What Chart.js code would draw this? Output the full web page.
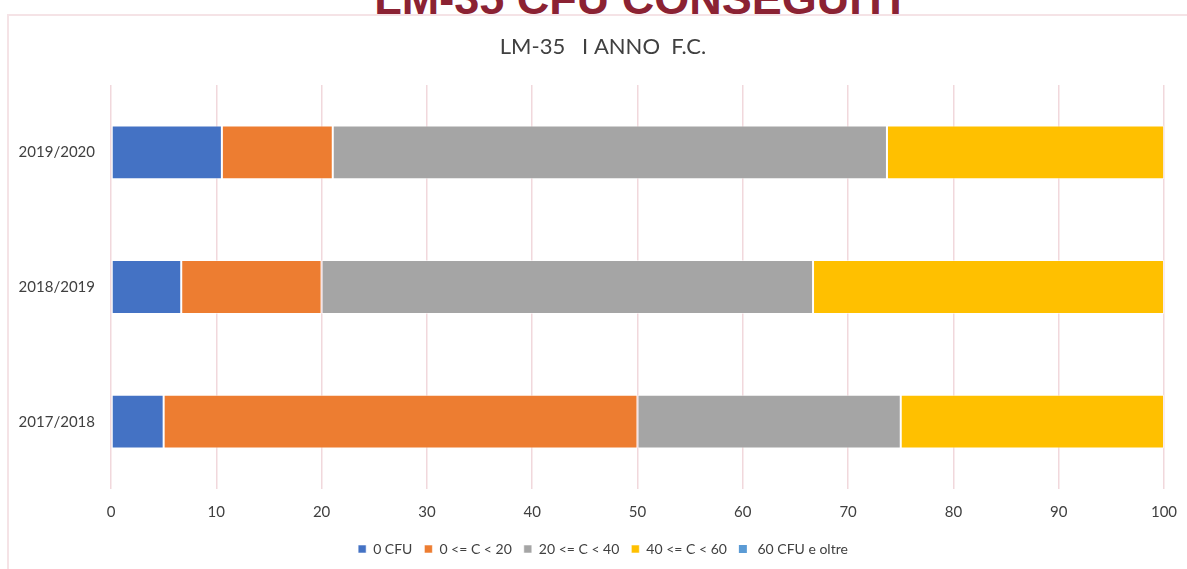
<!DOCTYPE html>
<html>
<head>
<meta charset="utf-8">
<title>LM-35 CFU conseguiti</title>
<script src="https://cdn.jsdelivr.net/npm/chart.js@4/dist/chart.umd.min.js"></script>
<style>
    html, body { margin: 0; padding: 0; background: #fff; overflow: hidden; }
    body { width: 1187px; height: 569px; position: relative; }
    #bigTitle {
        position: absolute; left: 0; top: -24px; width: 1276px;
        text-align: center; font: bold 45px "Liberation Sans", Arial, sans-serif;
        line-height: 45px; color: #8b2233; white-space: nowrap;
    }
    #frame {
        position: absolute; left: 7px; top: 14px; width: 1192px; height: 570px;
        border-top: 2px solid #f5e3e6; border-left: 2px solid #f5e3e6;
    }
    #chartWrap { position: absolute; left: 0; top: 0; width: 1188px; height: 553px; }
</style>
</head>
<body>
<div id="bigTitle">LM-35 CFU CONSEGUITI</div>
<div id="frame">
    <div id="chartWrap"><canvas id="cfuChart"></canvas></div>
</div>
<script>
// anni accademici (dall'alto in basso)
const years = ['2019/2020', '2018/2019', '2017/2018'];

// percentuali per fascia di CFU
const cfu0 = [10.53, 6.67, 5];
const cfu0to20 = [10.53, 13.33, 45];
const cfu20to40 = [52.63, 46.67, 25];
const cfu40to60 = [26.32, 33.33, 25];
const cfu60plus = [0, 0, 0];

const xTicks = [0, 10, 20, 30, 40, 50, 60, 70, 80, 90, 100];

const textColor = '#404040';
const gridColor = '#f1d8dc';
const fontFamily = 'Lato, "Open Sans", sans-serif';

function makeSet(label, data, color) {
    return {
        label: label,
        data: data,
        backgroundColor: color,
        borderColor: 'rgba(255,255,255,0.55)',
        borderWidth: 1,
        borderSkipped: false,
        barPercentage: 0.4,
        categoryPercentage: 1.0
    };
}

const datasets = [
    makeSet('0 CFU', cfu0, '#4472c4'),
    makeSet('0 <= C < 20', cfu0to20, '#ed7d31'),
    makeSet('20 <= C < 40', cfu20to40, '#a5a5a5'),
    makeSet('40 <= C < 60', cfu40to60, '#ffc000'),
    makeSet(' 60 CFU e oltre', cfu60plus, '#5b9bd5')
];
datasets[4].borderWidth = 0;

const ctx = document.getElementById('cfuChart').getContext('2d');
const cfuChart = new Chart(ctx, {
    type: 'bar',
    data: { labels: years, datasets: datasets },
    options: {
        indexAxis: 'y',
        responsive: true,
        maintainAspectRatio: false,
        animation: false,
        layout: { padding: { left: 0, right: 0, top: 0, bottom: 3 } },
        plugins: {
            title: {
                display: true,
                text: 'LM-35   I ANNO  F.C.',
                color: textColor,
                font: { family: fontFamily, size: 22, weight: 'normal' },
                padding: { top: 18, bottom: 24.6 }
            },
            legend: {
                position: 'bottom',
                labels: {
                    color: textColor,
                    font: { family: fontFamily, size: 14 },
                    boxWidth: 8,
                    boxHeight: 8,
                    padding: 12
                }
            },
            tooltip: { enabled: false }
        },
        scales: {
            x: {
                stacked: true,
                min: 0,
                max: 100,
                afterBuildTicks: function(scale) {
                    scale.ticks = xTicks.map(v => ({ value: v }));
                },
                afterFit: function(scale) { scale.height = 41; },
                grid: { color: gridColor, lineWidth: 1.5, drawTicks: false },
                border: { display: false },
                ticks: {
                    color: textColor,
                    font: { family: fontFamily, size: 15 },
                    padding: 14
                }
            },
            y: {
                stacked: true,
                afterFit: function(scale) { scale.width = 102; },
                grid: { display: false, drawTicks: false },
                border: { display: false },
                ticks: {
                    color: textColor,
                    font: { family: fontFamily, size: 15 },
                    padding: 16
                }
            },
            // spazio vuoto a destra dell'area del grafico
            yRight: {
                type: 'category',
                position: 'right',
                afterFit: function(scale) { scale.width = 33; },
                grid: { display: false, drawTicks: false },
                border: { display: false },
                ticks: { display: false }
            }
        }
    }
});
</script>
</body>
</html>
